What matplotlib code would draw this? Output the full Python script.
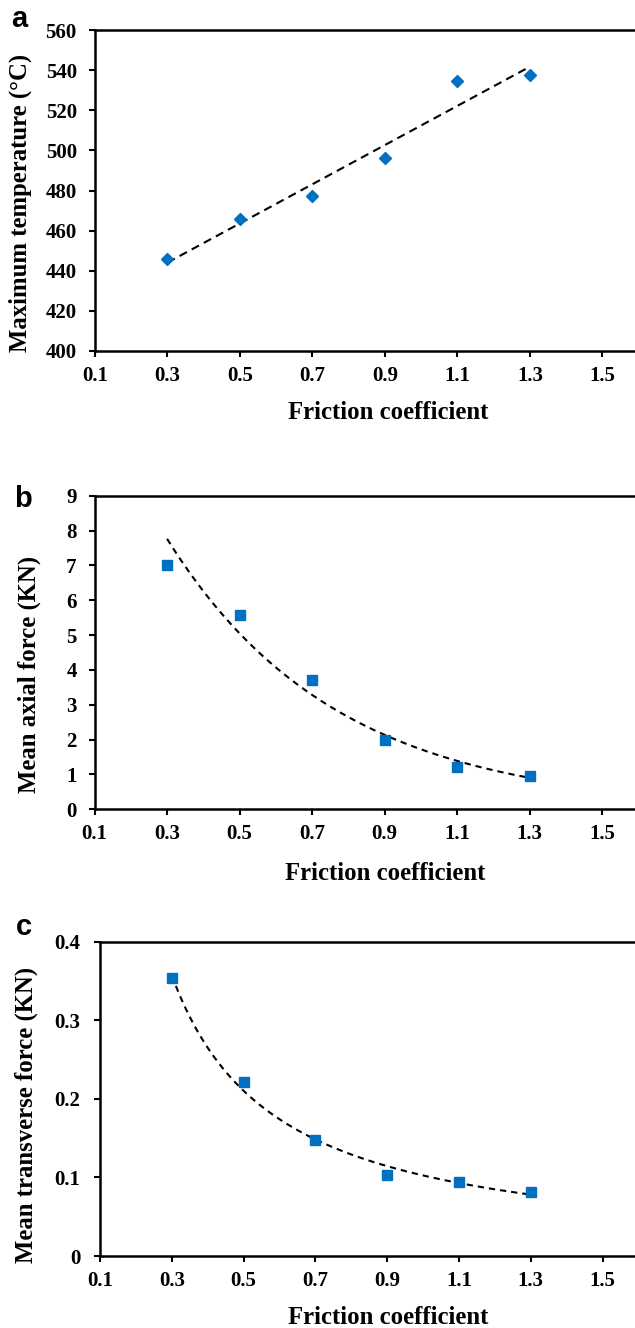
import numpy as np
import matplotlib
matplotlib.use("Agg")
import matplotlib.pyplot as plt

# ---------------- data ----------------
friction = [0.3, 0.5, 0.7, 0.9, 1.1, 1.3]
max_temperature = [445.7, 466.0, 477.3, 496.4, 534.6, 537.4]
axial_force = [7.0, 5.58, 3.72, 2.0, 1.22, 0.97]
transverse_force = [0.354, 0.222, 0.1476, 0.1027, 0.0946, 0.0819]

x_ticks = [0.1, 0.3, 0.5, 0.7, 0.9, 1.1, 1.3, 1.5]
x_tick_labels = ["0.1", "0.3", "0.5", "0.7", "0.9", "1.1", "1.3", "1.5"]
a_yticks = [400, 420, 440, 460, 480, 500, 520, 540, 560]
b_yticks = [0, 1, 2, 3, 4, 5, 6, 7, 8, 9]
c_yticks = [0, 0.1, 0.2, 0.3, 0.4]
c_ytick_labels = ["0", "0.1", "0.2", "0.3", "0.4"]

x_label = "Friction coefficient"
a_ylabel = "Maximum temperature (°C)"
b_ylabel = "Mean axial force (KN)"
c_ylabel = "Mean transverse force (KN)"
panel_labels = ["a", "b", "c"]

# ---------------- style ----------------
BLUE = "#0070C0"
SERIF = ["Liberation Serif", "DejaVu Serif"]
plt.rcParams["font.family"] = SERIF
plt.rcParams["font.weight"] = "bold"

W, H = 635, 1328
fig = plt.figure(figsize=(W / 100, H / 100), dpi=100)

def rect(left_px, top_px, bottom_px, right_px=W):
    return [left_px / W, 1 - bottom_px / H, (right_px - left_px) / W, (bottom_px - top_px) / H]

def fxy(px, py):
    return px / W, 1 - py / H

ax_a = fig.add_axes(rect(95, 30, 351))
ax_b = fig.add_axes(rect(94.5, 495.7, 809.3))
ax_c = fig.add_axes(rect(100, 941.7, 1256))

xs = np.linspace(friction[0], friction[-1], 200)
fx = np.array(friction)

LABEL_FS = 17.8
TICK_FS = 15

def style(ax, yticks, ylabels, ylim, ylabel, ypad, xlab_pos, ylab_pos):
    ax.set_xlim(0.1, 1.59)
    ax.set_ylim(*ylim)
    ax.set_xticks(x_ticks)
    ax.set_xticklabels(x_tick_labels)
    ax.set_yticks(yticks)
    ax.set_yticklabels(ylabels)
    for s in ["left", "bottom", "top"]:
        ax.spines[s].set_linewidth(1.8)
        ax.spines[s].set_color("black")
    ax.spines["right"].set_visible(False)
    ax.tick_params(axis="both", direction="out", length=4.3, width=1.5, labelsize=TICK_FS)
    ax.tick_params(axis="x", pad=6.4)
    ax.tick_params(axis="y", pad=ypad)
    for lab in ax.get_xticklabels() + ax.get_yticklabels():
        lab.set_fontweight("bold")
    ax.set_xlabel(x_label, fontsize=LABEL_FS, fontweight="bold")
    ax.set_ylabel(ylabel, fontsize=LABEL_FS, fontweight="bold")
    ax.xaxis.set_label_coords(*fxy(*xlab_pos), transform=fig.transFigure)
    ax.xaxis.label.set_va("center")
    ax.yaxis.set_label_coords(*fxy(*ylab_pos), transform=fig.transFigure)
    ax.yaxis.label.set_va("center")

# panel a: linear trend
pa = np.polyfit(fx, max_temperature, 1)
ax_a.plot(xs, np.polyval(pa, xs), color="black", lw=1.5, dashes=(4, 2.6), zorder=2)
ax_a.plot(friction, max_temperature, linestyle="none", marker="D", ms=6.6,
          color=BLUE, markeredgecolor=BLUE, zorder=3)
style(ax_a, a_yticks, [str(v) for v in a_yticks], (400, 560), a_ylabel, 8.8,
      (388, 412.5), (20, 202.5))

# panel b: exponential trend
pb = np.polyfit(fx, np.log(axial_force), 1)
ax_b.plot(xs, np.exp(np.polyval(pb, xs)), color="black", lw=1.5, dashes=(3, 2.4), zorder=2)
ax_b.plot(friction, axial_force, linestyle="none", marker="s", ms=6.6,
          color=BLUE, markeredgecolor=BLUE, zorder=3)
style(ax_b, b_yticks, [str(v) for v in b_yticks], (0, 9), b_ylabel, 8.5,
      (385, 873), (29, 674))

# panel c: power trend
pc = np.polyfit(np.log(fx), np.log(transverse_force), 1)
ax_c.plot(xs, np.exp(np.polyval(pc, np.log(xs))), color="black", lw=1.5, dashes=(3, 2.4), zorder=2)
ax_c.plot(friction, transverse_force, linestyle="none", marker="s", ms=6.6,
          color=BLUE, markeredgecolor=BLUE, zorder=3)
style(ax_c, c_yticks, c_ytick_labels, (0, 0.4), c_ylabel, 9.8,
      (388, 1317), (26.7, 1115))

# panel letters
for lbl, (px, py) in zip(panel_labels, [(19.5, 27), (22.5, 507), (24, 935)]):
    fig.text(*fxy(px, py), lbl, fontsize=21, fontweight="bold",
             family=["Liberation Sans", "DejaVu Sans"], ha="center", va="baseline")

fig.savefig("out.png", dpi=100)
